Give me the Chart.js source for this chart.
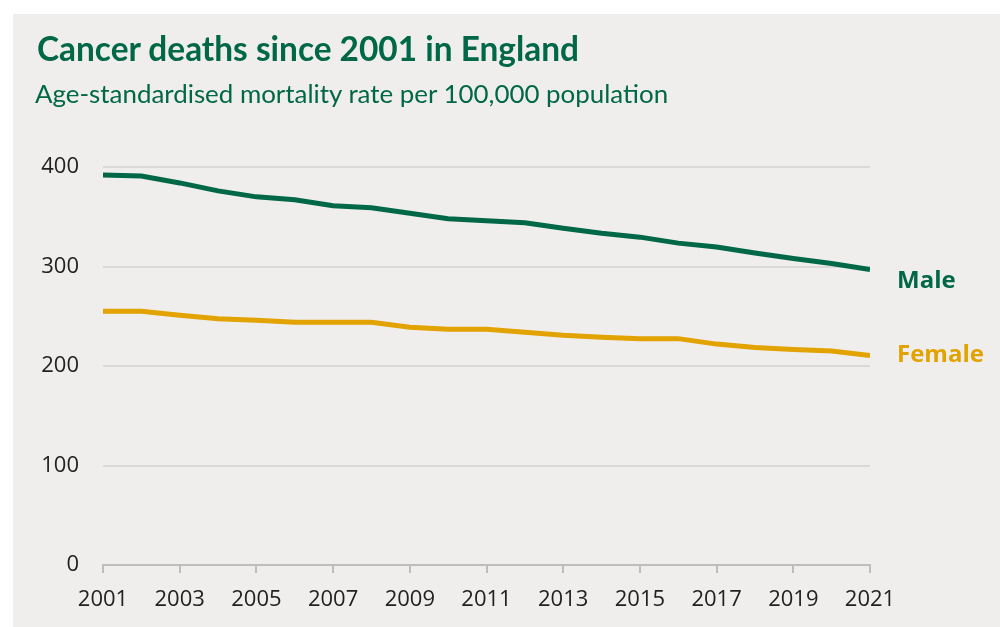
<!DOCTYPE html>
<html>
<head>
<meta charset="utf-8">
<script src="https://cdn.jsdelivr.net/npm/chart.js@4.4.1/dist/chart.umd.min.js"></script>
<style>
    html, body { margin: 0; padding: 0; background: #fff; }
    #wrap {
        position: absolute; left: 13px; top: 14px; width: 987px; height: 613px;
        background: #efeeec;
    }
    #title {
        position: absolute; left: 37px; top: 29px; margin: 0;
        font: bold 33.4px Lato, sans-serif; color: #006747; line-height: 38px;
    }
    #subtitle {
        position: absolute; left: 35px; top: 78px; margin: 0;
        font: 25.9px Lato, sans-serif; color: #006747; line-height: 30px;
    }
    #box { position: absolute; left: 0; top: 0; width: 1000px; height: 627px; }
</style>
</head>
<body>
<div id="wrap"></div>
<div id="box"><canvas id="chart"></canvas></div>
<h1 id="title">Cancer deaths since 2001 in England</h1>
<p id="subtitle">Age-standardised mortality rate per 100,000 population</p>
<script>
    const years = [2001, 2002, 2003, 2004, 2005, 2006, 2007, 2008, 2009, 2010, 2011,
        2012, 2013, 2014, 2015, 2016, 2017, 2018, 2019, 2020, 2021];
    const male = [392, 391, 384, 376, 370, 367, 361, 359, 353.5, 348, 346,
        344, 338.5, 333.5, 329.5, 323.5, 319.5, 313.5, 308, 303, 297];
    const female = [255, 255, 251, 247.5, 246, 244, 244, 244, 239, 237, 237,
        234, 231, 229, 227.5, 227.5, 222, 218.5, 216.5, 215, 210.5];
    const yTicks = [0, 100, 200, 300, 400];

    const GREEN = '#006747';
    const GOLD = '#e2a300';

    const toPoints = (vals) => vals.map((v, i) => ({x: years[i], y: v}));

    // end-of-line series names
    const endLabels = {
        id: 'endLabels',
        afterDatasetsDraw(chart) {
            const {ctx, chartArea, scales} = chart;
            const offsets = [12, 0];
            ctx.save();
            ctx.font = 'bold 24px "Open Sans", sans-serif';
            ctx.textBaseline = 'middle';
            ctx.textAlign = 'left';
            chart.data.datasets.forEach((ds, i) => {
                const last = ds.data[ds.data.length - 1].y;
                ctx.fillStyle = ds.borderColor;
                ctx.fillText(ds.label, chartArea.right + 27, scales.y.getPixelForValue(last) + offsets[i]);
            });
            ctx.restore();
        }
    };

    const tickFont = {family: '"Open Sans", sans-serif', size: 22};

    new Chart(document.getElementById('chart'), {
        type: 'line',
        data: {
            datasets: [
                {label: 'Male', data: toPoints(male), borderColor: GREEN, borderWidth: 5,
                    pointRadius: 0, tension: 0},
                {label: 'Female', data: toPoints(female), borderColor: GOLD, borderWidth: 5,
                    pointRadius: 0, tension: 0}
            ]
        },
        options: {
            responsive: true,
            maintainAspectRatio: false,
            animation: false,
            layout: {padding: {left: 0, top: 167, right: 130, bottom: 12}},
            plugins: {legend: {display: false}, tooltip: {enabled: false}},
            scales: {
                x: {
                    type: 'linear',
                    min: years[0],
                    max: years[years.length - 1],
                    afterFit: (s) => { s.height = 50; },
                    ticks: {
                        stepSize: 2, color: '#222', font: tickFont, padding: 14,
                        maxRotation: 0, callback: (v) => String(v)
                    },
                    grid: {drawOnChartArea: false, drawTicks: true, tickLength: 8, color: '#bdbdbd', lineWidth: 2},
                    border: {display: true, color: '#bdbdbd', width: 2}
                },
                y: {
                    min: 0,
                    max: 400,
                    afterFit: (s) => { s.width = 103; },
                    afterBuildTicks: (s) => { s.ticks = yTicks.map(v => ({value: v})); },
                    ticks: {color: '#222', font: tickFont, padding: 24},
                    grid: {drawTicks: false, color: '#dad9d7', lineWidth: 2},
                    border: {display: false}
                }
            }
        },
        plugins: [endLabels]
    });
</script>
</body>
</html>
